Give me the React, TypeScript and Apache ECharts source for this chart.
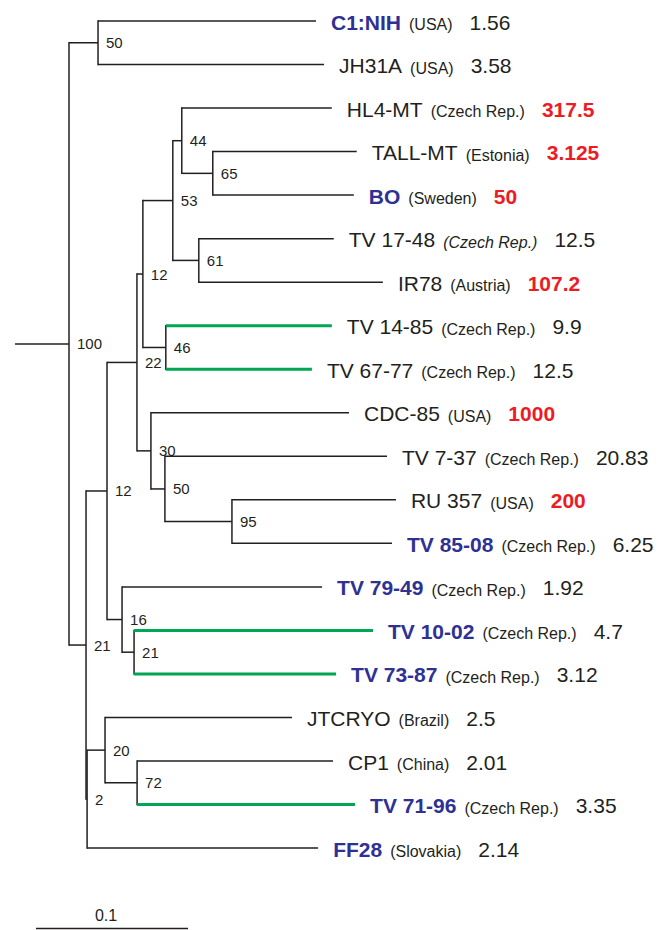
import React, { useEffect, useRef } from "react";
import * as echarts from "echarts";

// ---------- DATA ----------
// internal nodes of the tree (branch length = substitutions / site)
const nodeIds = ["root", "A", "B", "C", "D", "E", "F", "G", "H", "I", "J", "K", "L", "M", "N", "O", "P", "Q", "R"];
const nodeParents = [null, "root", "root", "B", "B", "D", "E", "C", "C", "G", "G", "I", "I", "K", "K", "M", "J", "P", "H"];
const nodeBranchLengths = [0.0355, 0.0191, 0.0112, 0.0138, 0.0007, 0.0118, 0.0211, 0.0197, 0.0099, 0.0039, 0.0092, 0.0197, 0.0151, 0.0059, 0.0171, 0.0204, 0.0092, 0.0441, 0.0079];
const nodeSupport = [100, 50, 21, 12, 2, 20, 72, 22, 16, 12, 30, 53, 46, 44, 61, 65, 50, 95, 21];

// leaves (strains), top to bottom
const leafNames = ["C1:NIH", "JH31A", "HL4-MT", "TALL-MT", "BO", "TV 17-48", "IR78", "TV 14-85", "TV 67-77", "CDC-85", "TV 7-37", "RU 357", "TV 85-08", "TV 79-49", "TV 10-02", "TV 73-87", "JTCRYO", "CP1", "TV 71-96", "FF28"];
const leafCountries = ["USA", "USA", "Czech Rep.", "Estonia", "Sweden", "Czech Rep.", "Austria", "Czech Rep.", "Czech Rep.", "USA", "Czech Rep.", "USA", "Czech Rep.", "Czech Rep.", "Czech Rep.", "Czech Rep.", "Brazil", "China", "Czech Rep.", "Slovakia"];
const leafValues = ["1.56", "3.58", "317.5", "3.125", "50", "12.5", "107.2", "9.9", "12.5", "1000", "20.83", "200", "6.25", "1.92", "4.7", "3.12", "2.5", "2.01", "3.35", "2.14"];
const leafParents = ["A", "A", "M", "O", "O", "N", "N", "L", "L", "J", "P", "Q", "Q", "H", "R", "R", "E", "F", "F", "D"];
const leafBranchLengths = [0.1434, 0.1487, 0.0987, 0.0947, 0.0928, 0.0888, 0.1211, 0.1092, 0.0961, 0.1303, 0.1461, 0.1079, 0.1053, 0.1316, 0.1572, 0.1329, 0.123, 0.1289, 0.1434, 0.152];

const blueStrains = ["C1:NIH", "BO", "TV 85-08", "TV 79-49", "TV 10-02", "TV 73-87", "TV 71-96", "FF28"];
const redValueStrains = ["HL4-MT", "TALL-MT", "BO", "IR78", "CDC-85", "RU 357"];
const greenBranchStrains = ["TV 14-85", "TV 67-77", "TV 10-02", "TV 73-87", "TV 71-96"];
const italicCountryStrains = ["TV 17-48"];

const scaleBarLength = 0.1;
const scaleBarLabel = "0.1";

// ---------- STYLE ----------
const DARK = "#231f20";
const BLUE = "#2e3192";
const RED = "#ed1c24";
const GREEN = "#00a651";
const FONT = "'Liberation Sans', Arial, Helvetica, sans-serif";

function buildLayout() {
  const parentOf: Record<string, string | null> = {};
  const blOf: Record<string, number> = {};
  const children: Record<string, string[]> = {};
  nodeIds.forEach((id, i) => {
    parentOf[id] = nodeParents[i];
    blOf[id] = nodeBranchLengths[i];
    children[id] = [];
  });
  leafNames.forEach((n, i) => {
    parentOf[n] = leafParents[i];
    blOf[n] = leafBranchLengths[i];
  });
  Object.keys(parentOf).forEach((k) => {
    const p = parentOf[k];
    if (p) children[p].push(k);
  });
  const depthCache: Record<string, number> = {};
  const depth = (id: string): number => {
    if (depthCache[id] !== undefined) return depthCache[id];
    const p = parentOf[id];
    const d = p ? depth(p) + blOf[id] : 0;
    depthCache[id] = d;
    return d;
  };
  const yCache: Record<string, number> = {};
  const span: Record<string, [number, number]> = {};
  const yOf = (id: string): number => {
    if (yCache[id] !== undefined) return yCache[id];
    const li = leafNames.indexOf(id);
    let y: number;
    if (li >= 0) {
      y = li;
    } else {
      const ys = children[id].map(yOf);
      const lo = Math.min(...ys);
      const hi = Math.max(...ys);
      span[id] = [lo, hi];
      y = (lo + hi) / 2;
    }
    yCache[id] = y;
    return y;
  };
  const branches: any[] = [];
  nodeIds.forEach((id) => {
    const y = yOf(id);
    const d = depth(id);
    const p = parentOf[id];
    const pd = p ? depth(p) : -blOf[id];
    branches.push({ value: [pd, d, y, span[id][0], span[id][1], 0] });
  });
  leafNames.forEach((n) => {
    const y = yOf(n);
    const d = depth(n);
    const pd = depth(parentOf[n] as string);
    branches.push({ value: [pd, d, y, y, y, greenBranchStrains.includes(n) ? 1 : 0] });
  });
  const leafPoints = leafNames.map((n) => ({ name: n, value: [depth(n), yOf(n)] }));
  const supportPoints = nodeIds.map((id) => ({ name: id, value: [depth(id), yOf(id)] }));
  return { branches, leafPoints, supportPoints };
}

export default function App() {
  const ref = useRef<HTMLDivElement>(null);
  useEffect(() => {
    if (!ref.current) return;
    const chart = echarts.init(ref.current, undefined, { renderer: "svg" });
    const { branches, leafPoints, supportPoints } = buildLayout();
    const scaleStart = -0.0217;
    const scaleRow = 20.845;

    chart.setOption({
      animation: false,
      backgroundColor: "#ffffff",
      grid: { left: 69, top: 21, width: 456, height: 827.07 },
      xAxis: { type: "value", min: 0, max: 0.3, show: false },
      yAxis: { type: "value", min: 0, max: 19, inverse: true, show: false },
      series: [
        {
          type: "custom",
          name: "branches",
          silent: true,
          clip: false,
          data: branches,
          renderItem: (params: any, api: any) => {
            const x0 = api.value(0);
            const x1 = api.value(1);
            const y = api.value(2);
            const lo = api.value(3);
            const hi = api.value(4);
            const green = api.value(5) === 1;
            const p0 = api.coord([x0, y]);
            const p1 = api.coord([x1, y]);
            const els: any[] = [
              {
                type: "line",
                shape: { x1: p0[0], y1: p0[1], x2: p1[0], y2: p1[1] },
                style: { stroke: green ? GREEN : DARK, lineWidth: green ? 3 : 1.5, lineCap: "butt" },
                z2: green ? 2 : 1,
              },
            ];
            if (hi > lo) {
              const a = api.coord([x1, lo]);
              const b = api.coord([x1, hi]);
              els.push({
                type: "line",
                shape: { x1: a[0], y1: a[1] - 0.75, x2: b[0], y2: b[1] + 0.75 },
                style: { stroke: DARK, lineWidth: 1.5 },
              });
            }
            return { type: "group", children: els };
          },
        },
        {
          type: "scatter",
          name: "strains",
          silent: true,
          symbolSize: 0,
          itemStyle: { opacity: 1 },
          data: leafPoints,
          label: {
            show: true,
            position: "right",
            distance: 15,
            offset: [0, 1],
            fontFamily: FONT,
            formatter: (p: any) => {
              const i = p.dataIndex;
              const n = leafNames[i];
              const ns = blueStrains.includes(n) ? "nb" : "n";
              const cs = italicCountryStrains.includes(n) ? "ci" : "c";
              const vs = redValueStrains.includes(n) ? "vr" : "v";
              return `{${ns}|${n}}{${cs}|(${leafCountries[i]})}{${vs}|${leafValues[i]}}`;
            },
            rich: {
              n: { fontFamily: FONT, fontSize: 21, color: DARK, lineHeight: 21, verticalAlign: "bottom" },
              nb: { fontFamily: FONT, fontSize: 21, fontWeight: "bold", color: BLUE, lineHeight: 21, verticalAlign: "bottom" },
              c: { fontFamily: FONT, fontSize: 16, color: DARK, lineHeight: 16, verticalAlign: "bottom", padding: [0, 0, 0, 8] },
              ci: { fontFamily: FONT, fontSize: 16, fontStyle: "italic", color: DARK, lineHeight: 16, verticalAlign: "bottom", padding: [0, 0, 0, 8] },
              v: { fontFamily: FONT, fontSize: 21, color: DARK, lineHeight: 21, verticalAlign: "bottom", padding: [0, 0, 0, 17] },
              vr: { fontFamily: FONT, fontSize: 21, fontWeight: "bold", color: RED, lineHeight: 21, verticalAlign: "bottom", padding: [0, 0, 0, 17] },
            },
          },
        },
        {
          type: "scatter",
          name: "support",
          silent: true,
          symbolSize: 0,
          itemStyle: { opacity: 1 },
          data: supportPoints,
          label: {
            show: true,
            position: "right",
            distance: 8,
            fontFamily: FONT,
            fontSize: 15,
            color: DARK,
            formatter: (p: any) => String(nodeSupport[p.dataIndex]),
          },
        },
        {
          type: "custom",
          name: "scale",
          silent: true,
          clip: false,
          data: [{ value: [scaleStart, scaleStart + scaleBarLength, scaleRow] }],
          renderItem: (params: any, api: any) => {
            const a = api.coord([api.value(0), api.value(2)]);
            const b = api.coord([api.value(1), api.value(2)]);
            return {
              type: "group",
              children: [
                { type: "line", shape: { x1: a[0], y1: a[1], x2: b[0], y2: b[1] }, style: { stroke: DARK, lineWidth: 1.5 } },
                {
                  type: "text",
                  x: (a[0] + b[0]) / 2 - 6,
                  y: a[1] - 5,
                  style: { text: scaleBarLabel, fontFamily: FONT, fontSize: 16, fill: DARK, align: "center", verticalAlign: "bottom" },
                },
              ],
            };
          },
        },
      ],
    });
    return () => chart.dispose();
  }, []);
  return <div ref={ref} style={{ position: "fixed", left: 0, top: 0, width: 664, height: 930 }} />;
}
